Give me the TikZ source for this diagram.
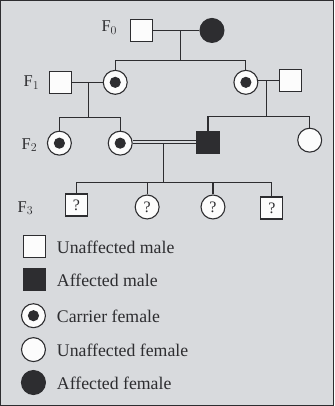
\documentclass[tikz,border=0pt]{standalone}
\usepackage{fontspec}
\setmainfont{Liberation Serif}
\definecolor{paper}{RGB}{216,218,221}
\definecolor{ink}{RGB}{45,45,48}
\begin{document}
\begin{tikzpicture}[x=1pt,y=-1pt,
  line width=1.1pt, draw=ink,
  male/.style={draw=ink,rectangle,minimum size=22pt,inner sep=0pt,fill=white!92!paper},
  amale/.style={male,fill=ink},
  female/.style={draw=ink,circle,minimum size=24pt,inner sep=0pt,fill=white!92!paper},
  afemale/.style={female,fill=ink},
  carrier/.style={female,path picture={\fill[ink] (path picture bounding box.center) circle (5pt);}},
  qmark/.style={font=\fontsize{16}{16}\selectfont,text=ink},
  gen/.style={font=\fontsize{16.5}{16.5}\selectfont,text=ink},
  legtext/.style={anchor=west,font=\fontsize{17.8}{17.8}\selectfont,text=ink,inner sep=0pt},
  every path/.style={draw=ink}]
\fill[paper] (0,0) rectangle (334,406);
\useasboundingbox (0,0) rectangle (334,406);

% generation labels
\node[gen] (g0) at (109,27) {F$_0$};
\node[gen] (g1) at (31,82) {F$_1$};
\node[gen] (g2) at (29,145) {F$_2$};
\node[gen] (g3) at (25,208) {F$_3$};

% F0
\node[male] (m0) at (141,30) {};
\node[afemale] (f0) at (212,30) {};
\coordinate (c0) at (180,30);
\coordinate (s0) at (180,60);
\draw (m0) -- (f0);
\draw (c0) -- (s0);

% F1
\node[male] (m1) at (60,82) {};
\node[carrier] (c1) at (115,82) {};
\node[carrier] (c2) at (246,82) {};
\node[male] (m2) at (291,80) {};
\draw (c1.north) -- (c1.north |- s0) -- (c2.north |- s0) -- (c2.north);
\draw (m1) -- (c1);
\draw (c2.east |- m2) -- (m2);
\coordinate (d1) at (88,82);
\coordinate (d2) at (267,80);
\coordinate (s1) at (88,117);
\coordinate (s2) at (267,116);
\draw (d1) -- (s1);
\draw (d2) -- (s2);

% F2
\node[carrier] (c3) at (59,143) {};
\node[carrier] (c4) at (120,143) {};
\node[amale] (am) at (208,142) {};
\node[female] (f2) at (310,140) {};
\draw (c3.north) -- (c3.north |- s1) -- (c4.north |- s1) -- (c4.north);
\draw (am.north) -- (am.north |- s2) -- (f2.north |- s2) -- (f2.north);
\draw[double=paper,double distance=2.2pt,line width=0.9pt] (c4.east |- am) -- (am.west);
\coordinate (d3) at (163,143);
\coordinate (s3) at (163,182);
\draw (d3) -- (s3);

% F3
\node[male,qmark] (q1) at (76,205) {?};
\node[female,qmark] (q2) at (147,207) {?};
\node[female,qmark] (q3) at (213,207) {?};
\node[male,qmark] (q4) at (272,208) {?};
\draw (q1.north) -- (q1.north |- s3) -- (q4.north |- s3) -- (q4.north);
\draw (q2.north) -- (q2.north |- s3);
\draw (q3.north) -- (q3.north |- s3);

% legend
\node[male] (l1) at (34,247) {};
\node[amale] (l2) at (34,280) {};
\node[carrier] (l3) at (33,316) {};
\node[female] (l4) at (33,350) {};
\node[afemale] (l5) at (33,383) {};
\node[legtext] (t1) at (56,247) {Unaffected male};
\node[legtext] (t2) at (56,281) {Affected male};
\node[legtext] (t3) at (56,317) {Carrier female};
\node[legtext] (t4) at (56,351) {Unaffected female};
\node[legtext] (t5) at (56,384) {Affected female};
\end{tikzpicture}
\end{document}
